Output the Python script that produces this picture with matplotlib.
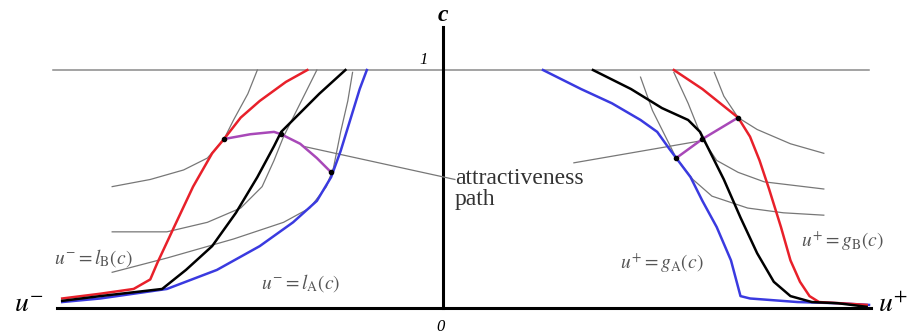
import matplotlib.pyplot as plt

plt.rcParams['mathtext.fontset'] = 'stix'
plt.rcParams['font.family'] = ['Liberation Serif', 'DejaVu Serif']

# left side (u-), curves
lB_u = [-1.60, -1.44, -1.30, -1.23, -1.20, -1.13, -1.05, -0.97, -0.92, -0.85, -0.77, -0.66, -0.57]
lB_c = [0.04, 0.06, 0.08, 0.12, 0.19, 0.34, 0.51, 0.65, 0.71, 0.80, 0.87, 0.95, 1.0]
lmid_u = [-1.60, -1.44, -1.18, -1.08, -0.97, -0.87, -0.78, -0.71, -0.68, -0.60, -0.52, -0.41]
lmid_c = [0.03, 0.05, 0.08, 0.16, 0.26, 0.40, 0.55, 0.68, 0.74, 0.82, 0.90, 1.0]
lA_u = [-1.60, -1.44, -1.16, -0.95, -0.77, -0.63, -0.53, -0.47, -0.43, -0.39, -0.35, -0.32]
lA_c = [0.025, 0.04, 0.08, 0.16, 0.26, 0.36, 0.45, 0.55, 0.66, 0.79, 0.92, 1.0]

pathL_u = [-0.92, -0.81, -0.71, -0.68, -0.60, -0.53, -0.47]
pathL_c = [0.71, 0.73, 0.74, 0.73, 0.69, 0.63, 0.57]
dotsL_u = [-0.92, -0.68, -0.47]
dotsL_c = [0.71, 0.73, 0.57]

iso_left = [
    ([-1.39, -1.23, -1.09, -0.99, -0.92, -0.88, -0.82, -0.78],
     [0.51, 0.54, 0.58, 0.63, 0.71, 0.79, 0.90, 1.0]),
    ([-1.39, -1.16, -0.99, -0.85, -0.76, -0.71, -0.67, -0.61, -0.53],
     [0.32, 0.32, 0.36, 0.42, 0.51, 0.62, 0.72, 0.84, 1.0]),
    ([-1.39, -1.16, -0.88, -0.67, -0.56, -0.49, -0.46, -0.43, -0.40, -0.38],
     [0.15, 0.21, 0.29, 0.36, 0.42, 0.51, 0.59, 0.74, 0.87, 0.99]),
]

# right side (u+)
gA_u = [0.42, 0.58, 0.71, 0.83, 0.90, 0.95, 0.98, 1.04, 1.09, 1.15, 1.21, 1.25, 1.29, 1.49, 1.66, 1.79]
gA_c = [1.0, 0.92, 0.86, 0.79, 0.74, 0.67, 0.63, 0.55, 0.45, 0.34, 0.20, 0.05, 0.04, 0.025, 0.02, 0.013]
gmid_u = [0.63, 0.79, 0.92, 1.03, 1.08, 1.12, 1.18, 1.25, 1.32, 1.39, 1.46, 1.55, 1.66, 1.78]
gmid_c = [1.0, 0.92, 0.84, 0.79, 0.74, 0.66, 0.54, 0.38, 0.23, 0.11, 0.05, 0.025, 0.02, 0.005]
gB_u = [0.97, 1.09, 1.19, 1.24, 1.29, 1.33, 1.37, 1.42, 1.46, 1.50, 1.54, 1.58, 1.67, 1.78]
gB_c = [1.0, 0.92, 0.84, 0.80, 0.72, 0.62, 0.50, 0.34, 0.20, 0.11, 0.05, 0.025, 0.02, 0.013]

pathR_u = [0.98, 1.09, 1.24]
pathR_c = [0.63, 0.71, 0.80]

iso_right = [
    ([1.14, 1.18, 1.24, 1.32, 1.46, 1.60], [0.99, 0.89, 0.80, 0.75, 0.69, 0.65]),
    ([0.97, 1.03, 1.09, 1.15, 1.24, 1.35, 1.60], [0.99, 0.86, 0.71, 0.62, 0.57, 0.53, 0.50]),
    ([0.83, 0.88, 0.94, 0.98, 1.05, 1.13, 1.28, 1.43, 1.60],
     [0.97, 0.83, 0.71, 0.63, 0.54, 0.47, 0.42, 0.40, 0.39]),
]

pointerL = ([-0.59, 0.05], [0.68, 0.54])
pointerR = ([0.55, 1.07], [0.61, 0.70])

fig = plt.figure(figsize=(9.12, 3.35), dpi=100)
ax = fig.add_axes([0, 0, 1, 1])
ax.set_xlim(-443 / 238, 469 / 238)
ax.set_ylim(-27 / 238, 308 / 238)
ax.axis('off')

gray = '#8a8a8a'
ax.plot([-1.64, 1.79], [1, 1], color=gray, lw=1.1)
ax.plot([-1.62, 1.80], [0, 0], color='black', lw=2.2)
ax.plot([0, 0], [0, 1.18], color='black', lw=2.2)

for xs, ys in iso_left + iso_right:
    ax.plot(xs, ys, color='#777777', lw=0.9)
ax.plot(*pointerL, color='#777777', lw=0.9)
ax.plot(*pointerR, color='#777777', lw=0.9)

red, blue, purple = '#e8202a', '#3a3ae0', '#a848b8'
ax.plot(lA_u, lA_c, color=blue, lw=1.8)
ax.plot(lB_u, lB_c, color=red, lw=1.8)
ax.plot(lmid_u, lmid_c, color='black', lw=1.8)
ax.plot(gA_u, gA_c, color=blue, lw=1.8)
ax.plot(gB_u, gB_c, color=red, lw=1.8)
ax.plot(gmid_u, gmid_c, color='black', lw=1.8)

ax.plot(pathL_u, pathL_c, color=purple, lw=1.8)
ax.plot(pathR_u, pathR_c, color=purple, lw=1.8)
ax.plot(dotsL_u, dotsL_c, 'o', color='black', ms=3)
ax.plot(pathR_u, pathR_c, 'o', color='black', ms=3)

ax.text(0, 1.23, 'c', fontsize=17, fontweight='bold', fontstyle='italic',
        ha='center', va='center')
ax.text(-0.08, 1.04, '1', fontsize=12, fontstyle='italic', ha='center', va='center')
ax.text(-0.01, -0.08, '0', fontsize=12, fontstyle='italic', ha='center', va='center')
ax.text(-1.74, 0.01, r'$u^{-}$', fontsize=20, ha='center', va='center')
ax.text(1.89, 0.01, r'$u^{+}$', fontsize=20, ha='center', va='center')

ax.text(0.05, 0.50, 'attractiveness\npath', fontsize=17, ha='left', va='center',
        linespacing=0.95, color='#333333')

lab = '#555555'
ax.text(-1.47, 0.21, r'$u^{-}=l_{\mathrm{B}}(c)$', fontsize=14, color=lab, ha='center', va='center')
ax.text(-0.60, 0.105, r'$u^{-}=l_{\mathrm{A}}(c)$', fontsize=14, color=lab, ha='center', va='center')
ax.text(0.92, 0.19, r'$u^{+}=g_{\mathrm{A}}(c)$', fontsize=14, color=lab, ha='center', va='center')
ax.text(1.68, 0.28, r'$u^{+}=g_{\mathrm{B}}(c)$', fontsize=14, color=lab, ha='center', va='center')

fig.savefig('out.png', dpi=100)
